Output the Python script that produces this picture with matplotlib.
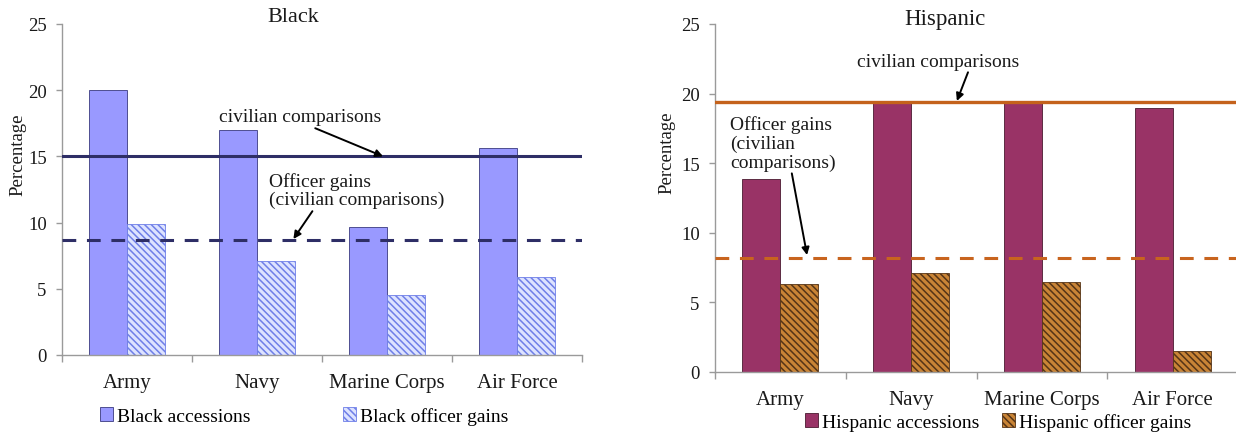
import matplotlib
matplotlib.use("Agg")
import matplotlib.pyplot as plt
from matplotlib.patches import Patch
import numpy as np

plt.rcParams['font.family'] = ['Liberation Serif', 'DejaVu Serif']
plt.rcParams['hatch.linewidth'] = 1.1

branches = ["Army", "Navy", "Marine Corps", "Air Force"]

black_accessions = [20.0, 17.0, 9.7, 15.6]
black_officer_gains = [9.9, 7.1, 4.5, 5.9]
black_civilian = 15.0
black_officer_civilian = 8.7

hispanic_accessions = [13.9, 19.4, 19.5, 19.0]
hispanic_officer_gains = [6.3, 7.1, 6.5, 1.5]
hispanic_civilian = 19.4
hispanic_officer_civilian = 8.2

y_ticks = [0, 5, 10, 15, 20, 25]

TXT = "#1a1a1a"

fig = plt.figure(figsize=(12.36, 4.35), dpi=100)
ax_b = fig.add_axes([62 / 1236, 1 - 356 / 435, 520 / 1236, 331 / 435])
ax_h = fig.add_axes([715 / 1236, 1 - 373 / 435, 523 / 1236, 348 / 435])

x = np.arange(len(branches))
bw = 0.29
spine_col = "#9a9a9a"


def style_axes(ax):
    ax.set_xlim(-0.5, len(branches) - 0.5)
    ax.set_ylim(0, 25)
    for s in ("top", "right"):
        ax.spines[s].set_visible(False)
    for s in ("left", "bottom"):
        ax.spines[s].set_color(spine_col)
        ax.spines[s].set_linewidth(1.0)
    ax.set_yticks(y_ticks)
    ax.tick_params(axis="y", length=4, width=1, color=spine_col, pad=7,
                   labelsize=13.5, labelcolor=TXT)
    ax.set_xticks(np.arange(len(branches) + 1) - 0.5)
    ax.set_xticklabels([])
    ax.set_xticks(x, minor=True)
    ax.set_xticklabels(branches, minor=True)
    ax.tick_params(axis="x", which="major", length=5, width=1, color=spine_col)
    ax.tick_params(axis="x", which="minor", length=0, pad=13, labelsize=15,
                   labelcolor=TXT)


arrow_kw = dict(arrowstyle="-|>", color="black", lw=1.4, mutation_scale=11,
                shrinkA=0, shrinkB=0)

# Black panel
ax_b.bar(x - bw / 2, black_accessions, bw, color="#9999ff",
         edgecolor="#3a3a80", linewidth=0.6, zorder=2)
ax_b.bar(x + bw / 2, black_officer_gains, bw, color="#dde3ff",
         edgecolor="#6f7fe8", hatch="\\\\\\\\\\", linewidth=0.6, zorder=2)
ax_b.axhline(black_civilian, color="#2e2e66", lw=2.2, zorder=3)
ax_b.axhline(black_officer_civilian, color="#2e2e66", lw=2.2,
             dashes=(4.5, 3.5), zorder=3)
style_axes(ax_b)

ax_b.annotate("civilian comparisons", xy=(1.97, 15.0), xytext=(0.71, 17.98),
              fontsize=14, va="center", ha="left", color=TXT,
              arrowprops=dict(arrow_kw, relpos=(0.55, 0.0)), zorder=5)
ax_b.annotate("Officer gains\n(civilian comparisons)", xy=(1.28, 8.76),
              xytext=(1.09, 12.45), fontsize=14, va="center", ha="left",
              linespacing=1.1, color=TXT,
              arrowprops=dict(arrow_kw, relpos=(0.26, 0.0)), zorder=5)

# Hispanic panel
ax_h.bar(x - bw / 2, hispanic_accessions, bw, color="#993366",
         edgecolor="#4a1a30", linewidth=0.6, zorder=2)
ax_h.bar(x + bw / 2, hispanic_officer_gains, bw, color="#c98436",
         edgecolor="#553417", hatch="\\\\\\\\\\", linewidth=0.6, zorder=2)
ax_h.axhline(hispanic_civilian, color="#c4621c", lw=2.4, zorder=3)
ax_h.axhline(hispanic_officer_civilian, color="#c8641e", lw=2.2,
             dashes=(4.5, 3.5), zorder=3)
style_axes(ax_h)

ax_h.annotate("civilian comparisons", xy=(1.35, 19.47), xytext=(0.587, 22.34),
              fontsize=14, va="center", ha="left", color=TXT,
              arrowprops=dict(arrow_kw, relpos=(0.69, 0.0)), zorder=5)
ax_h.annotate("Officer gains\n(civilian\ncomparisons)", xy=(0.204, 8.4),
              xytext=(-0.385, 16.45), fontsize=14, va="center", ha="left",
              linespacing=1.1, color=TXT,
              arrowprops=dict(arrow_kw, relpos=(0.58, 0.0)), zorder=5)

# Titles and axis labels
fig.text(293 / 1236, 1 - 18 / 435, "Black", fontsize=16, ha="center",
         va="center", color=TXT)
fig.text(945 / 1236, 1 - 20 / 435, "Hispanic", fontsize=16.5, ha="center",
         va="center", color=TXT)
fig.text(18 / 1236, 1 - 155 / 435, "Percentage", fontsize=13.5, rotation=90,
         ha="center", va="center", color=TXT)
fig.text(667 / 1236, 1 - 153 / 435, "Percentage", fontsize=13.5, rotation=90,
         ha="center", va="center", color=TXT)

# Legends
fig.legend(
    handles=[Patch(facecolor="#9999ff", edgecolor="#3a3a80", lw=0.6),
             Patch(facecolor="#dde3ff", edgecolor="#6f7fe8",
                   hatch="\\\\\\\\\\", lw=0.6)],
    labels=["Black accessions", "Black officer gains"],
    loc="center left", bbox_to_anchor=(100 / 1236, 1 - 417 / 435), ncol=2,
    frameon=False, fontsize=14, handlelength=0.65, handleheight=0.7,
    handletextpad=0.2, columnspacing=4.8, borderaxespad=0, borderpad=0)
fig.legend(
    handles=[Patch(facecolor="#993366", edgecolor="#4a1a30", lw=0.6),
             Patch(facecolor="#c98436", edgecolor="#553417",
                   hatch="\\\\\\\\\\", lw=0.6)],
    labels=["Hispanic accessions", "Hispanic officer gains"],
    loc="center left", bbox_to_anchor=(805 / 1236, 1 - 423 / 435), ncol=2,
    frameon=False, fontsize=14, handlelength=0.65, handleheight=0.7,
    handletextpad=0.2, columnspacing=1.2, borderaxespad=0, borderpad=0)

fig.savefig("out.png", dpi=100)
